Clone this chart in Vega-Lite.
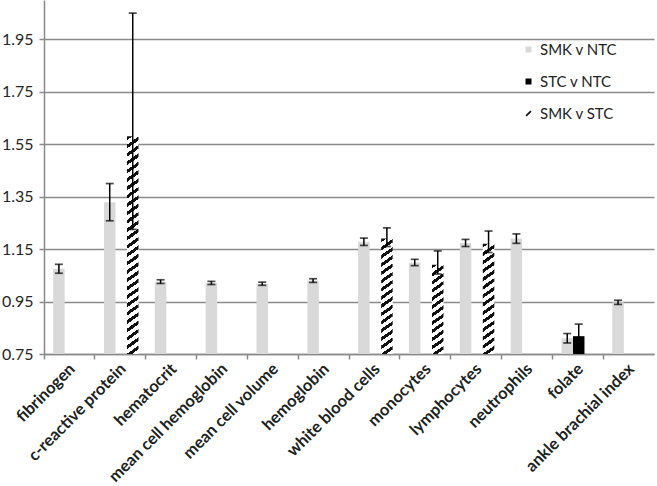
{
  "$schema": "https://vega.github.io/schema/vega-lite/v6.json",
  "width": 610,
  "height": 354,
  "autosize": {"type": "none"},
  "padding": {"left": 44, "top": 0, "right": 3, "bottom": 132},
  "config": {
    "view": {"stroke": null},
    "font": "Lato",
    "axis": {"domainColor": "#8a8a8a", "domainWidth": 1.5, "tickColor": "#8a8a8a", "tickWidth": 1.5, "tickSize": 5, "title": null},
    "axisY": {"grid": true, "gridColor": "#8a8a8a", "gridWidth": 1.6, "labelFont": "Lato", "labelFontSize": 16, "labelColor": "#262626", "labelPadding": 6}
  },
  "data": {"values": [
    {"cat": "fibrinogen", "series": "SMK v NTC", "value": 1.075, "lo": 1.058, "hi": 1.092},
    {"cat": "c-reactive protein", "series": "SMK v NTC", "value": 1.329, "lo": 1.258, "hi": 1.400},
    {"cat": "c-reactive protein", "series": "SMK v STC", "value": 1.58, "lo": 1.225, "hi": 2.050},
    {"cat": "hematocrit", "series": "SMK v NTC", "value": 1.026, "lo": 1.019, "hi": 1.033},
    {"cat": "mean cell hemoglobin", "series": "SMK v NTC", "value": 1.021, "lo": 1.015, "hi": 1.027},
    {"cat": "mean cell volume", "series": "SMK v NTC", "value": 1.018, "lo": 1.012, "hi": 1.024},
    {"cat": "hemoglobin", "series": "SMK v NTC", "value": 1.030, "lo": 1.023, "hi": 1.037},
    {"cat": "white blood cells", "series": "SMK v NTC", "value": 1.178, "lo": 1.164, "hi": 1.192},
    {"cat": "white blood cells", "series": "SMK v STC", "value": 1.19, "lo": 1.16, "hi": 1.231},
    {"cat": "monocytes", "series": "SMK v NTC", "value": 1.099, "lo": 1.087, "hi": 1.111},
    {"cat": "monocytes", "series": "SMK v STC", "value": 1.09, "lo": 1.055, "hi": 1.143},
    {"cat": "lymphocytes", "series": "SMK v NTC", "value": 1.173, "lo": 1.160, "hi": 1.187},
    {"cat": "lymphocytes", "series": "SMK v STC", "value": 1.17, "lo": 1.137, "hi": 1.219},
    {"cat": "neutrophils", "series": "SMK v NTC", "value": 1.19, "lo": 1.172, "hi": 1.208},
    {"cat": "folate", "series": "SMK v NTC", "value": 0.81, "lo": 0.792, "hi": 0.828},
    {"cat": "folate", "series": "STC v NTC", "value": 0.818, "lo": 0.772, "hi": 0.864},
    {"cat": "ankle brachial index", "series": "SMK v NTC", "value": 0.947, "lo": 0.939, "hi": 0.955}
  ]},
  "encoding": {
    "x": {
      "field": "cat", "type": "nominal", "sort": null, "title": null,
      "scale": {"paddingInner": 0, "paddingOuter": 0},
      "axis": {"bandPosition": 0, "labelOffset": 3, "labelAngle": -45, "labelAlign": "right", "labelBaseline": "middle", "labelPadding": 7, "labelFont": "Lato", "labelFontSize": 16.5, "labelFontWeight": "bold", "labelColor": "#1b231e", "labelOverlap": false, "labelLimit": 300}
    },
    "xOffset": {
      "field": "series", "type": "nominal",
      "scale": {"domain": ["SMK v NTC", "STC v NTC", "SMK v STC"], "paddingInner": 0, "paddingOuter": 0.71, "align": 0.56}
    }
  },
  "layer": [
    {
      "transform": [{"filter": "datum.series !== 'SMK v STC'"}],
      "mark": {"type": "bar"},
      "encoding": {
        "y": {"field": "value", "type": "quantitative", "title": null,
          "scale": {"domain": [0.75, 2.1], "nice": false, "zero": false},
          "axis": {"values": [0.75, 0.95, 1.15, 1.35, 1.55, 1.75, 1.95], "format": ".2f"}},
        "y2": {"datum": 0.75},
        "color": {"field": "series", "type": "nominal",
          "scale": {"domain": ["SMK v NTC", "STC v NTC", "SMK v STC"], "range": ["#d9d9d9", "#000000", "#111111"]},
          "legend": {"title": null, "orient": "none", "legendX": 477, "legendY": 42, "padding": 0, "symbolType": "square", "symbolSize": 36, "symbolStrokeWidth": 0, "labelFont": "Lato", "labelFontSize": 15, "labelColor": "#222222", "labelOffset": 4, "rowPadding": 16,
            "encode": {"symbols": {"update": {"shape": [{"test": "datum.value === 'SMK v STC'", "value": "M-1,0.6L-0.6,1L1,-0.6L0.6,-1Z"}, {"value": "square"}]}}}}
        }
      }
    },
    {
      "transform": [{"filter": "datum.cat === 'c-reactive protein' && datum.series === 'SMK v STC'"}],
      "mark": {"type": "bar", "fill": {"gradient": "linear", "x1": 0, "y1": 0, "x2": 0.0383, "y2": 1.0356, "stops": [
        {"offset": 0, "color": "#fff"}, {"offset": 0, "color": "#111"}, {"offset": 0.0167, "color": "#111"}, {"offset": 0.0167, "color": "#fff"},
        {"offset": 0.0370, "color": "#fff"}, {"offset": 0.0370, "color": "#111"}, {"offset": 0.0537, "color": "#111"}, {"offset": 0.0537, "color": "#fff"},
        {"offset": 0.0741, "color": "#fff"}, {"offset": 0.0741, "color": "#111"}, {"offset": 0.0907, "color": "#111"}, {"offset": 0.0907, "color": "#fff"},
        {"offset": 0.1111, "color": "#fff"}, {"offset": 0.1111, "color": "#111"}, {"offset": 0.1278, "color": "#111"}, {"offset": 0.1278, "color": "#fff"},
        {"offset": 0.1481, "color": "#fff"}, {"offset": 0.1481, "color": "#111"}, {"offset": 0.1648, "color": "#111"}, {"offset": 0.1648, "color": "#fff"},
        {"offset": 0.1852, "color": "#fff"}, {"offset": 0.1852, "color": "#111"}, {"offset": 0.2019, "color": "#111"}, {"offset": 0.2019, "color": "#fff"},
        {"offset": 0.2222, "color": "#fff"}, {"offset": 0.2222, "color": "#111"}, {"offset": 0.2389, "color": "#111"}, {"offset": 0.2389, "color": "#fff"},
        {"offset": 0.2593, "color": "#fff"}, {"offset": 0.2593, "color": "#111"}, {"offset": 0.2759, "color": "#111"}, {"offset": 0.2759, "color": "#fff"},
        {"offset": 0.2963, "color": "#fff"}, {"offset": 0.2963, "color": "#111"}, {"offset": 0.3130, "color": "#111"}, {"offset": 0.3130, "color": "#fff"},
        {"offset": 0.3333, "color": "#fff"}, {"offset": 0.3333, "color": "#111"}, {"offset": 0.3500, "color": "#111"}, {"offset": 0.3500, "color": "#fff"},
        {"offset": 0.3704, "color": "#fff"}, {"offset": 0.3704, "color": "#111"}, {"offset": 0.3870, "color": "#111"}, {"offset": 0.3870, "color": "#fff"},
        {"offset": 0.4074, "color": "#fff"}, {"offset": 0.4074, "color": "#111"}, {"offset": 0.4241, "color": "#111"}, {"offset": 0.4241, "color": "#fff"},
        {"offset": 0.4444, "color": "#fff"}, {"offset": 0.4444, "color": "#111"}, {"offset": 0.4611, "color": "#111"}, {"offset": 0.4611, "color": "#fff"},
        {"offset": 0.4815, "color": "#fff"}, {"offset": 0.4815, "color": "#111"}, {"offset": 0.4981, "color": "#111"}, {"offset": 0.4981, "color": "#fff"},
        {"offset": 0.5185, "color": "#fff"}, {"offset": 0.5185, "color": "#111"}, {"offset": 0.5352, "color": "#111"}, {"offset": 0.5352, "color": "#fff"},
        {"offset": 0.5556, "color": "#fff"}, {"offset": 0.5556, "color": "#111"}, {"offset": 0.5722, "color": "#111"}, {"offset": 0.5722, "color": "#fff"},
        {"offset": 0.5926, "color": "#fff"}, {"offset": 0.5926, "color": "#111"}, {"offset": 0.6093, "color": "#111"}, {"offset": 0.6093, "color": "#fff"},
        {"offset": 0.6296, "color": "#fff"}, {"offset": 0.6296, "color": "#111"}, {"offset": 0.6463, "color": "#111"}, {"offset": 0.6463, "color": "#fff"},
        {"offset": 0.6667, "color": "#fff"}, {"offset": 0.6667, "color": "#111"}, {"offset": 0.6833, "color": "#111"}, {"offset": 0.6833, "color": "#fff"},
        {"offset": 0.7037, "color": "#fff"}, {"offset": 0.7037, "color": "#111"}, {"offset": 0.7204, "color": "#111"}, {"offset": 0.7204, "color": "#fff"},
        {"offset": 0.7407, "color": "#fff"}, {"offset": 0.7407, "color": "#111"}, {"offset": 0.7574, "color": "#111"}, {"offset": 0.7574, "color": "#fff"},
        {"offset": 0.7778, "color": "#fff"}, {"offset": 0.7778, "color": "#111"}, {"offset": 0.7944, "color": "#111"}, {"offset": 0.7944, "color": "#fff"},
        {"offset": 0.8148, "color": "#fff"}, {"offset": 0.8148, "color": "#111"}, {"offset": 0.8315, "color": "#111"}, {"offset": 0.8315, "color": "#fff"},
        {"offset": 0.8519, "color": "#fff"}, {"offset": 0.8519, "color": "#111"}, {"offset": 0.8685, "color": "#111"}, {"offset": 0.8685, "color": "#fff"},
        {"offset": 0.8889, "color": "#fff"}, {"offset": 0.8889, "color": "#111"}, {"offset": 0.9056, "color": "#111"}, {"offset": 0.9056, "color": "#fff"},
        {"offset": 0.9259, "color": "#fff"}, {"offset": 0.9259, "color": "#111"}, {"offset": 0.9426, "color": "#111"}, {"offset": 0.9426, "color": "#fff"},
        {"offset": 0.9630, "color": "#fff"}, {"offset": 0.9630, "color": "#111"}, {"offset": 0.9796, "color": "#111"}, {"offset": 0.9796, "color": "#fff"},
        {"offset": 1, "color": "#fff"}
      ]}},
      "encoding": {
        "y": {"field": "value", "type": "quantitative", "title": null, "scale": {"domain": [0.75, 2.1], "nice": false, "zero": false}, "axis": {"values": [0.75, 0.95, 1.15, 1.35, 1.55, 1.75, 1.95], "format": ".2f"}},
        "y2": {"datum": 0.75}
      }
    },
    {
      "transform": [{"filter": "datum.cat === 'white blood cells' && datum.series === 'SMK v STC'"}],
      "mark": {"type": "bar", "fill": {"gradient": "linear", "x1": 0, "y1": 0, "x2": 0.0743, "y2": 1.0646, "stops": [
        {"offset": 0, "color": "#fff"}, {"offset": 0, "color": "#111"}, {"offset": 0.03, "color": "#111"}, {"offset": 0.03, "color": "#fff"},
        {"offset": 0.0667, "color": "#fff"}, {"offset": 0.0667, "color": "#111"}, {"offset": 0.0967, "color": "#111"}, {"offset": 0.0967, "color": "#fff"},
        {"offset": 0.1333, "color": "#fff"}, {"offset": 0.1333, "color": "#111"}, {"offset": 0.1633, "color": "#111"}, {"offset": 0.1633, "color": "#fff"},
        {"offset": 0.2, "color": "#fff"}, {"offset": 0.2, "color": "#111"}, {"offset": 0.23, "color": "#111"}, {"offset": 0.23, "color": "#fff"},
        {"offset": 0.2667, "color": "#fff"}, {"offset": 0.2667, "color": "#111"}, {"offset": 0.2967, "color": "#111"}, {"offset": 0.2967, "color": "#fff"},
        {"offset": 0.3333, "color": "#fff"}, {"offset": 0.3333, "color": "#111"}, {"offset": 0.3633, "color": "#111"}, {"offset": 0.3633, "color": "#fff"},
        {"offset": 0.4, "color": "#fff"}, {"offset": 0.4, "color": "#111"}, {"offset": 0.43, "color": "#111"}, {"offset": 0.43, "color": "#fff"},
        {"offset": 0.4667, "color": "#fff"}, {"offset": 0.4667, "color": "#111"}, {"offset": 0.4967, "color": "#111"}, {"offset": 0.4967, "color": "#fff"},
        {"offset": 0.5333, "color": "#fff"}, {"offset": 0.5333, "color": "#111"}, {"offset": 0.5633, "color": "#111"}, {"offset": 0.5633, "color": "#fff"},
        {"offset": 0.6, "color": "#fff"}, {"offset": 0.6, "color": "#111"}, {"offset": 0.63, "color": "#111"}, {"offset": 0.63, "color": "#fff"},
        {"offset": 0.6667, "color": "#fff"}, {"offset": 0.6667, "color": "#111"}, {"offset": 0.6967, "color": "#111"}, {"offset": 0.6967, "color": "#fff"},
        {"offset": 0.7333, "color": "#fff"}, {"offset": 0.7333, "color": "#111"}, {"offset": 0.7633, "color": "#111"}, {"offset": 0.7633, "color": "#fff"},
        {"offset": 0.8, "color": "#fff"}, {"offset": 0.8, "color": "#111"}, {"offset": 0.83, "color": "#111"}, {"offset": 0.83, "color": "#fff"},
        {"offset": 0.8667, "color": "#fff"}, {"offset": 0.8667, "color": "#111"}, {"offset": 0.8967, "color": "#111"}, {"offset": 0.8967, "color": "#fff"},
        {"offset": 0.9333, "color": "#fff"}, {"offset": 0.9333, "color": "#111"}, {"offset": 0.9633, "color": "#111"}, {"offset": 0.9633, "color": "#fff"},
        {"offset": 1, "color": "#fff"}
      ]}},
      "encoding": {
        "y": {"field": "value", "type": "quantitative", "title": null, "scale": {"domain": [0.75, 2.1], "nice": false, "zero": false}, "axis": {"values": [0.75, 0.95, 1.15, 1.35, 1.55, 1.75, 1.95], "format": ".2f"}},
        "y2": {"datum": 0.75}
      }
    },
    {
      "transform": [{"filter": "datum.cat === 'monocytes' && datum.series === 'SMK v STC'"}],
      "mark": {"type": "bar", "fill": {"gradient": "linear", "x1": 0, "y1": 0, "x2": 0.0977, "y2": 1.0815, "stops": [
        {"offset": 0, "color": "#fff"}, {"offset": 0, "color": "#111"}, {"offset": 0.0375, "color": "#111"}, {"offset": 0.0375, "color": "#fff"},
        {"offset": 0.0833, "color": "#fff"}, {"offset": 0.0833, "color": "#111"}, {"offset": 0.1208, "color": "#111"}, {"offset": 0.1208, "color": "#fff"},
        {"offset": 0.1667, "color": "#fff"}, {"offset": 0.1667, "color": "#111"}, {"offset": 0.2042, "color": "#111"}, {"offset": 0.2042, "color": "#fff"},
        {"offset": 0.25, "color": "#fff"}, {"offset": 0.25, "color": "#111"}, {"offset": 0.2875, "color": "#111"}, {"offset": 0.2875, "color": "#fff"},
        {"offset": 0.3333, "color": "#fff"}, {"offset": 0.3333, "color": "#111"}, {"offset": 0.3708, "color": "#111"}, {"offset": 0.3708, "color": "#fff"},
        {"offset": 0.4167, "color": "#fff"}, {"offset": 0.4167, "color": "#111"}, {"offset": 0.4542, "color": "#111"}, {"offset": 0.4542, "color": "#fff"},
        {"offset": 0.5, "color": "#fff"}, {"offset": 0.5, "color": "#111"}, {"offset": 0.5375, "color": "#111"}, {"offset": 0.5375, "color": "#fff"},
        {"offset": 0.5833, "color": "#fff"}, {"offset": 0.5833, "color": "#111"}, {"offset": 0.6208, "color": "#111"}, {"offset": 0.6208, "color": "#fff"},
        {"offset": 0.6667, "color": "#fff"}, {"offset": 0.6667, "color": "#111"}, {"offset": 0.7042, "color": "#111"}, {"offset": 0.7042, "color": "#fff"},
        {"offset": 0.75, "color": "#fff"}, {"offset": 0.75, "color": "#111"}, {"offset": 0.7875, "color": "#111"}, {"offset": 0.7875, "color": "#fff"},
        {"offset": 0.8333, "color": "#fff"}, {"offset": 0.8333, "color": "#111"}, {"offset": 0.8708, "color": "#111"}, {"offset": 0.8708, "color": "#fff"},
        {"offset": 0.9167, "color": "#fff"}, {"offset": 0.9167, "color": "#111"}, {"offset": 0.9542, "color": "#111"}, {"offset": 0.9542, "color": "#fff"},
        {"offset": 1, "color": "#fff"}
      ]}},
      "encoding": {
        "y": {"field": "value", "type": "quantitative", "title": null, "scale": {"domain": [0.75, 2.1], "nice": false, "zero": false}, "axis": {"values": [0.75, 0.95, 1.15, 1.35, 1.55, 1.75, 1.95], "format": ".2f"}},
        "y2": {"datum": 0.75}
      }
    },
    {
      "transform": [{"filter": "datum.cat === 'lymphocytes' && datum.series === 'SMK v STC'"}],
      "mark": {"type": "bar", "fill": {"gradient": "linear", "x1": 0, "y1": 0, "x2": 0.0780, "y2": 1.0674, "stops": [
        {"offset": 0, "color": "#fff"}, {"offset": 0, "color": "#111"}, {"offset": 0.0321, "color": "#111"}, {"offset": 0.0321, "color": "#fff"},
        {"offset": 0.0714, "color": "#fff"}, {"offset": 0.0714, "color": "#111"}, {"offset": 0.1036, "color": "#111"}, {"offset": 0.1036, "color": "#fff"},
        {"offset": 0.1429, "color": "#fff"}, {"offset": 0.1429, "color": "#111"}, {"offset": 0.1750, "color": "#111"}, {"offset": 0.1750, "color": "#fff"},
        {"offset": 0.2143, "color": "#fff"}, {"offset": 0.2143, "color": "#111"}, {"offset": 0.2464, "color": "#111"}, {"offset": 0.2464, "color": "#fff"},
        {"offset": 0.2857, "color": "#fff"}, {"offset": 0.2857, "color": "#111"}, {"offset": 0.3179, "color": "#111"}, {"offset": 0.3179, "color": "#fff"},
        {"offset": 0.3571, "color": "#fff"}, {"offset": 0.3571, "color": "#111"}, {"offset": 0.3893, "color": "#111"}, {"offset": 0.3893, "color": "#fff"},
        {"offset": 0.4286, "color": "#fff"}, {"offset": 0.4286, "color": "#111"}, {"offset": 0.4607, "color": "#111"}, {"offset": 0.4607, "color": "#fff"},
        {"offset": 0.5, "color": "#fff"}, {"offset": 0.5, "color": "#111"}, {"offset": 0.5321, "color": "#111"}, {"offset": 0.5321, "color": "#fff"},
        {"offset": 0.5714, "color": "#fff"}, {"offset": 0.5714, "color": "#111"}, {"offset": 0.6036, "color": "#111"}, {"offset": 0.6036, "color": "#fff"},
        {"offset": 0.6429, "color": "#fff"}, {"offset": 0.6429, "color": "#111"}, {"offset": 0.6750, "color": "#111"}, {"offset": 0.6750, "color": "#fff"},
        {"offset": 0.7143, "color": "#fff"}, {"offset": 0.7143, "color": "#111"}, {"offset": 0.7464, "color": "#111"}, {"offset": 0.7464, "color": "#fff"},
        {"offset": 0.7857, "color": "#fff"}, {"offset": 0.7857, "color": "#111"}, {"offset": 0.8179, "color": "#111"}, {"offset": 0.8179, "color": "#fff"},
        {"offset": 0.8571, "color": "#fff"}, {"offset": 0.8571, "color": "#111"}, {"offset": 0.8893, "color": "#111"}, {"offset": 0.8893, "color": "#fff"},
        {"offset": 0.9286, "color": "#fff"}, {"offset": 0.9286, "color": "#111"}, {"offset": 0.9607, "color": "#111"}, {"offset": 0.9607, "color": "#fff"},
        {"offset": 1, "color": "#fff"}
      ]}},
      "encoding": {
        "y": {"field": "value", "type": "quantitative", "title": null, "scale": {"domain": [0.75, 2.1], "nice": false, "zero": false}, "axis": {"values": [0.75, 0.95, 1.15, 1.35, 1.55, 1.75, 1.95], "format": ".2f"}},
        "y2": {"datum": 0.75}
      }
    },
    {
      "mark": {"type": "rule", "color": "#000000", "strokeWidth": 1.5},
      "encoding": {
        "y": {"field": "lo", "type": "quantitative", "title": null, "scale": {"domain": [0.75, 2.1], "nice": false, "zero": false}, "axis": {"values": [0.75, 0.95, 1.15, 1.35, 1.55, 1.75, 1.95], "format": ".2f"}},
        "y2": {"field": "hi"}
      }
    },
    {
      "mark": {"type": "tick", "color": "#000000", "size": 8, "thickness": 1.7, "orient": "horizontal"},
      "encoding": {
        "y": {"field": "lo", "type": "quantitative", "title": null, "scale": {"domain": [0.75, 2.1], "nice": false, "zero": false}, "axis": {"values": [0.75, 0.95, 1.15, 1.35, 1.55, 1.75, 1.95], "format": ".2f"}}
      }
    },
    {
      "mark": {"type": "tick", "color": "#000000", "size": 8, "thickness": 1.7, "orient": "horizontal"},
      "encoding": {
        "y": {"field": "hi", "type": "quantitative", "title": null, "scale": {"domain": [0.75, 2.1], "nice": false, "zero": false}, "axis": {"values": [0.75, 0.95, 1.15, 1.35, 1.55, 1.75, 1.95], "format": ".2f"}}
      }
    }
  ]
}
